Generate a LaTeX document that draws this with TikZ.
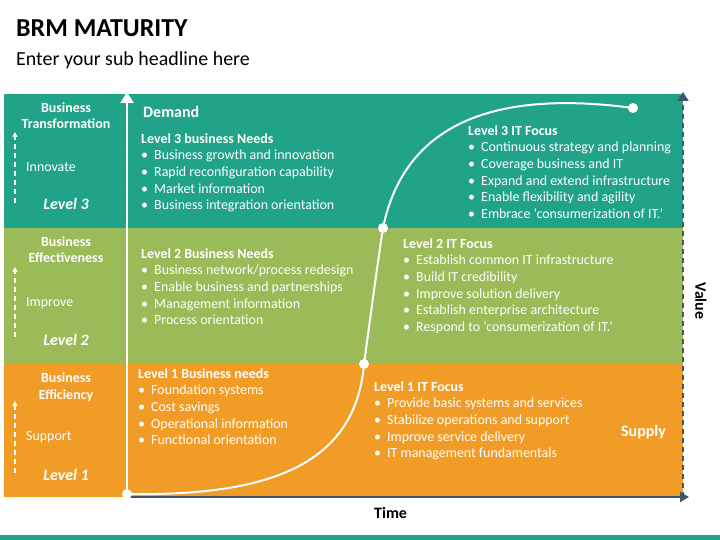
\documentclass[tikz,border=0pt]{standalone}
\usepackage{fontspec}
\setmainfont{Carlito}
\usetikzlibrary{arrows.meta}
\definecolor{tealband}{RGB}{33,163,135}
\definecolor{greenband}{RGB}{155,187,89}
\definecolor{orangeband}{RGB}{242,156,40}
\definecolor{axisgray}{RGB}{68,84,106}
\newcommand{\bul}{\makebox[13bp][l]{\textbullet}}
\begin{document}
\begin{tikzpicture}[x=1bp,y=-1bp,
  body/.style={text=white, font=\fontsize{14}{16.7}\selectfont, align=left, inner sep=0pt, anchor=base west},
  side/.style={text=white, font=\fontsize{14}{17}\selectfont\bfseries, align=center, inner sep=0pt, anchor=base},
  lvl/.style={text=white, font=\fontsize{16}{18}\selectfont\bfseries\itshape, inner sep=0pt, anchor=base},
  dot/.style={circle, fill=white, inner sep=0pt, minimum size=10bp}]
\useasboundingbox (0,0) rectangle (720,540);
% bands
\fill[tealband] (4,94) rectangle (683,228);
\fill[greenband] (4,228) rectangle (683,364);
\fill[orangeband] (4,364) rectangle (683,497);
\fill[tealband] (0,535) rectangle (720,540);
% title
\node[anchor=base west, inner sep=0pt, font=\fontsize{26}{30}\selectfont\bfseries] (title) at (16,37) {BRM MATURITY};
\node[anchor=base west, inner sep=0pt, font=\fontsize{20}{24}\selectfont] (subtitle) at (16,66) {Enter your sub headline here};
% axes
\draw[axisgray, line width=2bp, -{Triangle[width=10bp,length=9bp]}] (127,497) -- (689,497);
\draw[axisgray, line width=2bp, dash pattern=on 5bp off 4bp, -{Triangle[width=11bp,length=9bp]}] (683,497) -- (683,92);
\draw[white, line width=2bp, -{Triangle[width=13bp,length=11bp]}] (127,497) -- (127,92);
\node[anchor=base west, inner sep=0pt, font=\fontsize{16}{18}\selectfont\bfseries] (time) at (374,518) {Time};
\node[rotate=-90, inner sep=0pt, font=\fontsize{16}{18}\selectfont\bfseries] (value) at (701,301) {Value};
% left column (base = last line)
\node[side] (bt) at (66,129) {Business\\Transformation};
\node[side] (be) at (66,263) {Business\\Effectiveness};
\node[side] (bf) at (66,399) {Business\\Efficiency};
\node[body] (innovate) at (26,172) {Innovate};
\node[body] (improve) at (26,306) {Improve};
\node[body] (support) at (26,440) {Support};
\node[lvl] (lev3) at (66,210) {Level 3};
\node[lvl] (lev2) at (66,345) {Level 2};
\node[lvl] (lev1) at (66,480) {Level 1};
\draw[white, line width=1.5bp, dash pattern=on 5bp off 4bp, -{Triangle[width=5bp,length=5bp]}] (15,203) -- (15,132);
\draw[white, line width=1.5bp, dash pattern=on 5bp off 4bp, -{Triangle[width=5bp,length=5bp]}] (15,337) -- (15,267);
\draw[white, line width=1.5bp, dash pattern=on 5bp off 4bp, -{Triangle[width=5bp,length=5bp]}] (15,473) -- (15,401);
% curve
\node[dot] (p0) at (127,494) {};
\node[dot] (p1) at (364,364) {};
\node[dot] (p2) at (383,228) {};
\node[dot] (p3) at (633,108) {};
\draw[white, line width=2bp] (p0.center) .. controls (260,496) and (355,470) .. (p1.center)
  .. controls (370,320) and (378,260) .. (p2.center) .. controls (405,120) and (500,90) .. (p3.center);
% demand side
\node[anchor=base west, inner sep=0pt, text=white, font=\fontsize{16}{18}\selectfont\bfseries] (demand) at (143,118) {Demand};
\node[body] (needs3) at (141,209.8) {\textbf{Level 3 business Needs}\\
  \bul Business growth and innovation\\
  \bul Rapid reconfiguration capability\\
  \bul Market information\\
  \bul Business integration orientation};
\node[body] (needs2) at (141,324.8) {\textbf{Level 2 Business Needs}\\
  \bul Business network/process redesign\\
  \bul Enable business and partnerships\\
  \bul Management information\\
  \bul Process orientation};
\node[body] (needs1) at (138,444.8) {\textbf{Level 1 Business needs}\\
  \bul Foundation systems\\
  \bul Cost savings\\
  \bul Operational information\\
  \bul Functional orientation};
% supply side
\node[body] (focus3) at (468,218.5) {\textbf{Level 3 IT Focus}\\
  \bul Continuous strategy and planning\\
  \bul Coverage business and IT\\
  \bul Expand and extend infrastructure\\
  \bul Enable flexibility and agility\\
  \bul Embrace ‘consumerization of IT.’};
\node[body] (focus2) at (403,331.5) {\textbf{Level 2 IT Focus}\\
  \bul Establish common IT infrastructure\\
  \bul Build IT credibility\\
  \bul Improve solution delivery\\
  \bul Establish enterprise architecture\\
  \bul Respond to ‘consumerization of IT.’};
\node[body] (focus1) at (374,457.8) {\textbf{Level 1 IT Focus}\\
  \bul Provide basic systems and services\\
  \bul Stabilize operations and support\\
  \bul Improve service delivery\\
  \bul IT management fundamentals};
\node[anchor=base west, inner sep=0pt, text=white, font=\fontsize{16}{18}\selectfont\bfseries] (supply) at (621,436) {Supply};
\end{tikzpicture}
\end{document}
